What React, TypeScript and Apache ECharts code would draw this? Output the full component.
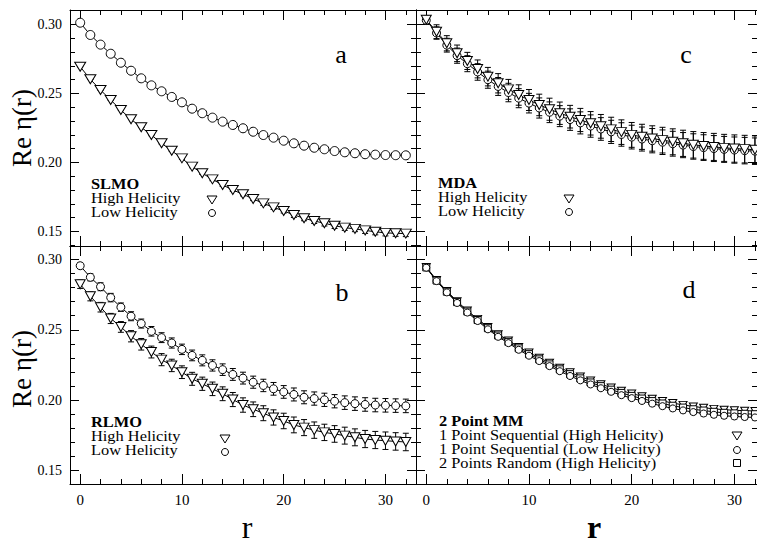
import React, { useEffect, useRef } from 'react';
import * as echarts from 'echarts';

// ---- data ----
const rValues = [0, 1, 2, 3, 4, 5, 6, 7, 8, 9, 10, 11, 12, 13, 14, 15, 16, 17, 18, 19, 20, 21, 22, 23, 24, 25, 26, 27, 28, 29, 30, 31, 32];

// panel a: SLMO
const slmoHigh = [0.2694, 0.2603, 0.2525, 0.2453, 0.2380, 0.2313, 0.2255, 0.2199, 0.2139, 0.2085, 0.2030, 0.1970, 0.1922, 0.1878, 0.1837, 0.1801, 0.1770, 0.1736, 0.1704, 0.1675, 0.1649, 0.1620, 0.1596, 0.1576, 0.1560, 0.1542, 0.1528, 0.1519, 0.1508, 0.1498, 0.1490, 0.1487, 0.1485];
const slmoHighErr = [0, 0, 0, 0, 0, 0, 0, 0.0005, 0.0005, 0.0005, 0.0008, 0.0008, 0.0008, 0.001, 0.001, 0.001, 0.0012, 0.0012, 0.0015, 0.0015, 0.0015, 0.0018, 0.0018, 0.0018, 0.002, 0.002, 0.002, 0.002, 0.0022, 0.0022, 0.0022, 0.0022, 0.0022];
const slmoLow = [0.3013, 0.2924, 0.2854, 0.2788, 0.2723, 0.2665, 0.2610, 0.2559, 0.2516, 0.2475, 0.2436, 0.2390, 0.2357, 0.2325, 0.2296, 0.2272, 0.2248, 0.2223, 0.2199, 0.2180, 0.2158, 0.2139, 0.2122, 0.2107, 0.2096, 0.2083, 0.2074, 0.2067, 0.2060, 0.2057, 0.2054, 0.2053, 0.2052];
const slmoLowErr = [0, 0, 0, 0, 0, 0, 0, 0, 0, 0, 0.0005, 0.0005, 0.0005, 0.0005, 0.0005, 0.0008, 0.0008, 0.0008, 0.0008, 0.0008, 0.001, 0.001, 0.001, 0.001, 0.001, 0.001, 0.0012, 0.0012, 0.0012, 0.0012, 0.0012, 0.0012, 0.0012];

// panel b: RLMO
const rlmoHigh = [0.2823, 0.2737, 0.2660, 0.2580, 0.2520, 0.2454, 0.2397, 0.2342, 0.2288, 0.2247, 0.2199, 0.2152, 0.2117, 0.2081, 0.2046, 0.2005, 0.1966, 0.1936, 0.1908, 0.1878, 0.1853, 0.1825, 0.1806, 0.1788, 0.1772, 0.1761, 0.1749, 0.1737, 0.1725, 0.1718, 0.1713, 0.1708, 0.1704];
const rlmoHighErr = [0.003, 0.0032, 0.0034, 0.0036, 0.0038, 0.004, 0.0041, 0.0042, 0.0043, 0.0044, 0.0045, 0.0046, 0.0047, 0.0048, 0.0049, 0.005, 0.0051, 0.0052, 0.0053, 0.0054, 0.0055, 0.0056, 0.0057, 0.0058, 0.0058, 0.0059, 0.006, 0.006, 0.0061, 0.0061, 0.0062, 0.0062, 0.0062];
const rlmoLow = [0.2954, 0.2872, 0.2805, 0.2728, 0.2660, 0.2596, 0.2544, 0.2489, 0.2444, 0.2406, 0.2361, 0.2318, 0.2283, 0.2247, 0.2217, 0.2183, 0.2157, 0.2128, 0.2105, 0.2081, 0.2059, 0.2041, 0.2021, 0.2012, 0.2003, 0.1993, 0.1983, 0.1976, 0.1970, 0.1966, 0.1964, 0.1962, 0.1960];
const rlmoLowErr = [0.002, 0.0025, 0.0028, 0.003, 0.003, 0.0032, 0.0032, 0.0034, 0.0035, 0.0036, 0.0037, 0.0038, 0.0039, 0.004, 0.0041, 0.0042, 0.0042, 0.0043, 0.0044, 0.0045, 0.0045, 0.0046, 0.0046, 0.0047, 0.0047, 0.0047, 0.0048, 0.0048, 0.0048, 0.0048, 0.0048, 0.0048, 0.0048];

// panel c: MDA
const mdaHigh = [0.3035, 0.2948, 0.2864, 0.2791, 0.2736, 0.2678, 0.2622, 0.2574, 0.2530, 0.2489, 0.2453, 0.2417, 0.2386, 0.2357, 0.2332, 0.2308, 0.2284, 0.2262, 0.2240, 0.2220, 0.2200, 0.2186, 0.2174, 0.2162, 0.2150, 0.2139, 0.2128, 0.2120, 0.2113, 0.2106, 0.2101, 0.2097, 0.2093];
const mdaHighErr = [0.003, 0.005, 0.0055, 0.006, 0.0062, 0.0065, 0.0067, 0.007, 0.0072, 0.0074, 0.0076, 0.0078, 0.008, 0.0081, 0.0082, 0.0084, 0.0085, 0.0086, 0.0088, 0.0089, 0.009, 0.0091, 0.0092, 0.0093, 0.0094, 0.0095, 0.0096, 0.0097, 0.0098, 0.0098, 0.0099, 0.01, 0.01];
const mdaLow = [0.3030, 0.2938, 0.2850, 0.2774, 0.2716, 0.2656, 0.2600, 0.2551, 0.2507, 0.2466, 0.2430, 0.2395, 0.2364, 0.2336, 0.2311, 0.2287, 0.2264, 0.2243, 0.2222, 0.2203, 0.2184, 0.2170, 0.2158, 0.2147, 0.2136, 0.2126, 0.2116, 0.2108, 0.2101, 0.2095, 0.2090, 0.2086, 0.2082];
const mdaLowErr = [0.003, 0.0045, 0.005, 0.0055, 0.0058, 0.006, 0.0062, 0.0065, 0.0067, 0.0069, 0.0071, 0.0073, 0.0075, 0.0076, 0.0078, 0.008, 0.0081, 0.0082, 0.0084, 0.0085, 0.0086, 0.0087, 0.0088, 0.0089, 0.009, 0.0091, 0.0092, 0.0093, 0.0094, 0.0094, 0.0095, 0.0096, 0.0096];

// panel d: 2 Point MM
const mmSeqHigh = [0.2945, 0.2853, 0.2775, 0.2702, 0.2636, 0.2577, 0.2519, 0.2468, 0.2424, 0.2378, 0.2338, 0.2301, 0.2266, 0.2231, 0.2198, 0.2168, 0.2140, 0.2114, 0.2090, 0.2068, 0.2048, 0.2029, 0.2011, 0.1995, 0.1980, 0.1967, 0.1956, 0.1947, 0.1939, 0.1933, 0.1929, 0.1926, 0.1924];
const mmSeqHighErr = [0.001, 0.0012, 0.0012, 0.0013, 0.0013, 0.0014, 0.0014, 0.0015, 0.0015, 0.0015, 0.0016, 0.0016, 0.0016, 0.0017, 0.0017, 0.0017, 0.0018, 0.0018, 0.0018, 0.0018, 0.0019, 0.0019, 0.0019, 0.0019, 0.002, 0.002, 0.002, 0.002, 0.002, 0.002, 0.002, 0.002, 0.002];
const mmSeqLow = [0.2940, 0.2845, 0.2765, 0.2690, 0.2622, 0.2562, 0.2503, 0.2450, 0.2405, 0.2358, 0.2316, 0.2278, 0.2242, 0.2206, 0.2172, 0.2141, 0.2112, 0.2085, 0.2060, 0.2036, 0.2015, 0.1995, 0.1976, 0.1958, 0.1942, 0.1928, 0.1916, 0.1906, 0.1897, 0.1890, 0.1885, 0.1881, 0.1878];
const mmSeqLowErr = [0.001, 0.001, 0.001, 0.0011, 0.0011, 0.0012, 0.0012, 0.0012, 0.0013, 0.0013, 0.0013, 0.0014, 0.0014, 0.0014, 0.0015, 0.0015, 0.0015, 0.0015, 0.0016, 0.0016, 0.0016, 0.0016, 0.0017, 0.0017, 0.0017, 0.0017, 0.0017, 0.0018, 0.0018, 0.0018, 0.0018, 0.0018, 0.0018];
const mmRandHigh = [0.2942, 0.2849, 0.2770, 0.2696, 0.2629, 0.2569, 0.2511, 0.2459, 0.2414, 0.2368, 0.2327, 0.2290, 0.2254, 0.2219, 0.2185, 0.2155, 0.2126, 0.2100, 0.2075, 0.2052, 0.2031, 0.2012, 0.1994, 0.1977, 0.1961, 0.1948, 0.1936, 0.1927, 0.1918, 0.1911, 0.1907, 0.1904, 0.1901];
const mmRandHighErr = [0.001, 0.0011, 0.0011, 0.0012, 0.0012, 0.0013, 0.0013, 0.0013, 0.0014, 0.0014, 0.0014, 0.0015, 0.0015, 0.0015, 0.0016, 0.0016, 0.0016, 0.0016, 0.0017, 0.0017, 0.0017, 0.0017, 0.0018, 0.0018, 0.0018, 0.0018, 0.0018, 0.0019, 0.0019, 0.0019, 0.0019, 0.0019, 0.0019];

// ticks
const xMajorTicks = [0, 10, 20, 30];
const xMinorTicks = [0, 2, 4, 6, 8, 10, 12, 14, 16, 18, 20, 22, 24, 26, 28, 30, 32];
const yMajorTicks = [0.15, 0.2, 0.25, 0.3];
const yMinorTicks = [0.14, 0.15, 0.16, 0.17, 0.18, 0.19, 0.2, 0.21, 0.22, 0.23, 0.24, 0.25, 0.26, 0.27, 0.28, 0.29, 0.3, 0.31];

const serif = "'Liberation Serif', 'Times New Roman', serif";

function buildAxes(gi: number, xr: number[], yr: number[], showX: boolean, showY: boolean) {
  const xs: any[] = [];
  const ys: any[] = [];
  const line = { show: true, onZero: false, lineStyle: { color: '#000', width: 1 } };
  const noLine = { show: false, onZero: false };
  const tickStyle = { color: '#000', width: 1 };
  (['bottom', 'top'] as const).forEach((pos) => {
    xs.push({
      type: 'value', gridIndex: gi, position: pos, min: xr[0], max: xr[1],
      axisLine: line, splitLine: { show: false },
      axisTick: { show: true, inside: true, length: 5, customValues: xMinorTicks, lineStyle: tickStyle },
      axisLabel: pos === 'bottom' && showX
        ? { show: true, customValues: xMajorTicks, fontFamily: serif, fontSize: 15, color: '#000', margin: 8 }
        : { show: false },
    });
    xs.push({
      type: 'value', gridIndex: gi, position: pos, min: xr[0], max: xr[1],
      axisLine: noLine, splitLine: { show: false },
      axisTick: { show: true, inside: true, length: 10, customValues: xMajorTicks, lineStyle: tickStyle },
      axisLabel: { show: false },
    });
  });
  (['left', 'right'] as const).forEach((pos) => {
    ys.push({
      type: 'value', gridIndex: gi, position: pos, min: yr[0], max: yr[1],
      axisLine: line, splitLine: { show: false },
      axisTick: { show: true, inside: true, length: 5, customValues: yMinorTicks, lineStyle: tickStyle },
      axisLabel: pos === 'left' && showY
        ? { show: true, customValues: yMajorTicks, fontFamily: serif, fontSize: 14, color: '#000', margin: 8, formatter: (v: number) => v.toFixed(2) }
        : { show: false },
    });
    ys.push({
      type: 'value', gridIndex: gi, position: pos, min: yr[0], max: yr[1],
      axisLine: noLine, splitLine: { show: false },
      axisTick: { show: true, inside: true, length: 9, customValues: yMajorTicks, lineStyle: tickStyle },
      axisLabel: { show: false },
    });
  });
  return { xs, ys };
}

function errSeries(gi: number, vals: number[], errs: number[]) {
  return {
    type: 'custom', xAxisIndex: gi * 4, yAxisIndex: gi * 4, z: 2, silent: true,
    data: rValues.map((x, i) => [x, vals[i], vals[i] - errs[i], vals[i] + errs[i]]),
    encode: { x: 0, y: 1 },
    renderItem: (_p: any, api: any) => {
      const x = api.value(0);
      const lo = api.coord([x, api.value(2)]);
      const hi = api.coord([x, api.value(3)]);
      const w = 3;
      const st = { stroke: '#000', lineWidth: 1 };
      return {
        type: 'group',
        children: [
          { type: 'line', shape: { x1: lo[0], y1: lo[1], x2: hi[0], y2: hi[1] }, style: st },
          { type: 'line', shape: { x1: lo[0] - w, y1: lo[1], x2: lo[0] + w, y2: lo[1] }, style: st },
          { type: 'line', shape: { x1: hi[0] - w, y1: hi[1], x2: hi[0] + w, y2: hi[1] }, style: st },
        ],
      };
    },
  };
}

function lineSeries(gi: number, vals: number[], symbol: string, size: any, rotate = 0) {
  return {
    type: 'line', xAxisIndex: gi * 4, yAxisIndex: gi * 4, z: 3,
    data: rValues.map((x, i) => [x, vals[i]]),
    symbol, symbolSize: size, symbolRotate: rotate, showAllSymbol: true,
    lineStyle: { color: '#000', width: 1 },
    itemStyle: { color: '#fff', borderColor: '#000', borderWidth: 1 },
  };
}

function txt(x: number, y: number, text: string, size: number, opts: any = {}) {
  return {
    type: 'text', x, y, rotation: opts.rotation || 0, scaleX: opts.scaleX || 1, silent: true,
    style: {
      text, fontSize: size, fontFamily: serif, fontWeight: opts.bold ? 'bold' : 'normal',
      fill: '#000', align: opts.align || 'left', verticalAlign: 'middle',
    },
  };
}
const LEG = 14;
const LEGX = 1.17;
function leg(x: number, y: number, text: string, bold = false) {
  return txt(x, y, text, LEG, { scaleX: LEGX, bold });
}
function triMark(cx: number, cy: number) {
  return { type: 'polygon', shape: { points: [[cx - 5, cy - 4], [cx + 5, cy - 4], [cx, cy + 4]] }, style: { fill: '#fff', stroke: '#000', lineWidth: 1 } };
}
function circMark(cx: number, cy: number) {
  return { type: 'circle', shape: { cx, cy, r: 3.5 }, style: { fill: '#fff', stroke: '#000', lineWidth: 1 } };
}
function sqMark(cx: number, cy: number) {
  return { type: 'rect', shape: { x: cx - 3.5, y: cy - 3.5, width: 7, height: 7 }, style: { fill: '#fff', stroke: '#000', lineWidth: 1 } };
}

export default function App() {
  const ref = useRef<HTMLDivElement>(null);
  useEffect(() => {
    if (!ref.current) return;
    const chart = echarts.init(ref.current, null, { renderer: 'svg' });
    const leftX = [-1, 33];
    const rightX = [-1, 32.2];
    const topY = [0.1395, 0.3105];
    const botY = [0.1406, 0.3094];
    const A = buildAxes(0, leftX, topY, false, true);
    const B = buildAxes(1, leftX, botY, true, true);
    const C = buildAxes(2, rightX, topY, false, false);
    const D = buildAxes(3, rightX, botY, true, false);
    const tri = 'triangle';
    const option: any = {
      animation: false,
      backgroundColor: '#fff',
      grid: [
        { left: 70, top: 10, width: 346, height: 236 },
        { left: 70, top: 246, width: 346, height: 238 },
        { left: 416, top: 10, width: 341, height: 236 },
        { left: 416, top: 246, width: 341, height: 238 },
      ],
      xAxis: [...A.xs, ...B.xs, ...C.xs, ...D.xs],
      yAxis: [...A.ys, ...B.ys, ...C.ys, ...D.ys],
      series: [
        errSeries(0, slmoHigh, slmoHighErr),
        errSeries(0, slmoLow, slmoLowErr),
        lineSeries(0, slmoHigh, tri, [11, 9], 180),
        lineSeries(0, slmoLow, 'circle', 9),
        errSeries(1, rlmoHigh, rlmoHighErr),
        errSeries(1, rlmoLow, rlmoLowErr),
        lineSeries(1, rlmoHigh, tri, [10, 9], 180),
        lineSeries(1, rlmoLow, 'circle', 8),
        errSeries(2, mdaHigh, mdaHighErr),
        errSeries(2, mdaLow, mdaLowErr),
        lineSeries(2, mdaLow, 'circle', 8),
        lineSeries(2, mdaHigh, tri, [10, 9], 180),
        errSeries(3, mmSeqHigh, mmSeqHighErr),
        errSeries(3, mmSeqLow, mmSeqLowErr),
        errSeries(3, mmRandHigh, mmRandHighErr),
        lineSeries(3, mmSeqHigh, tri, [8, 7], 180),
        lineSeries(3, mmRandHigh, 'rect', 7),
        lineSeries(3, mmSeqLow, 'circle', 7),
      ],
      graphic: [
        txt(22, 128, 'Re η(r)', 27, { rotation: Math.PI / 2, align: 'center' }),
        txt(22, 369, 'Re η(r)', 27, { rotation: Math.PI / 2, align: 'center' }),
        txt(247, 527, 'r', 32, { align: 'center' }),
        txt(594, 527, 'r', 32, { align: 'center', bold: true }),
        txt(341, 54, 'a', 26, { align: 'center' }),
        txt(342, 292, 'b', 26, { align: 'center' }),
        txt(686, 54, 'c', 26, { align: 'center' }),
        txt(689, 289, 'd', 26, { align: 'center' }),
        // legend a
        leg(91, 184, 'SLMO', true),
        leg(91, 198, 'High Helicity'),
        leg(91, 212, 'Low Helicity'),
        triMark(212, 200), circMark(212, 213),
        // legend b
        leg(91, 422, 'RLMO', true),
        leg(91, 436, 'High Helicity'),
        leg(91, 450, 'Low Helicity'),
        triMark(225, 439), circMark(225, 452),
        // legend c
        leg(438, 183, 'MDA', true),
        leg(438, 197, 'High Helicity'),
        leg(438, 211, 'Low Helicity'),
        triMark(569, 199), circMark(569, 212),
        // legend d
        leg(439, 421, '2 Point MM', true),
        leg(439, 435, '1 Point Sequential (High Helicity)'),
        leg(439, 449, '1 Point Sequential (Low Helicity)'),
        leg(439, 463, '2 Points Random (High Helicity)'),
        triMark(737, 436), circMark(737, 450), sqMark(737, 463),
      ],
    };
    chart.setOption(option);
    return () => chart.dispose();
  }, []);
  return <div ref={ref} style={{ position: 'fixed', left: 0, top: 0, width: 757, height: 546, background: '#fff' }} />;
}
